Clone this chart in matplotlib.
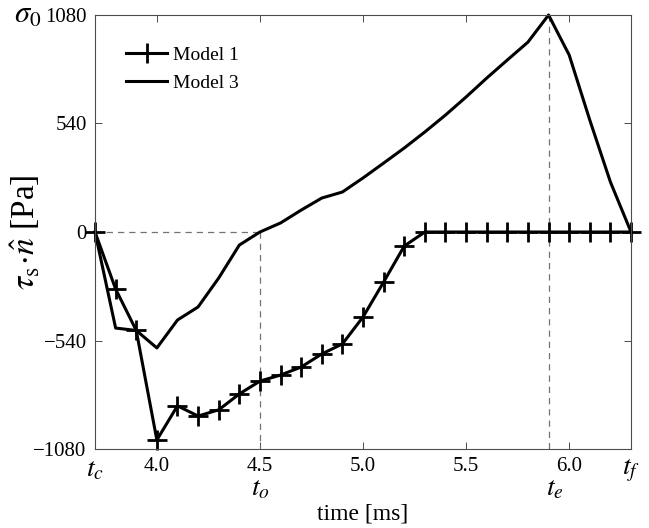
import matplotlib
matplotlib.use("Agg")
import matplotlib.pyplot as plt

plt.rcParams["font.family"] = ["Liberation Serif", "DejaVu Serif"]
plt.rcParams["mathtext.fontset"] = "stix"

# time [ms], sampled every 0.1 ms from t_c to t_f
t = [3.7, 3.8, 3.9, 4.0, 4.1, 4.2, 4.3, 4.4, 4.5, 4.6, 4.7, 4.8, 4.9, 5.0, 5.1, 5.2,
     5.3, 5.4, 5.5, 5.6, 5.7, 5.8, 5.9, 6.0, 6.1, 6.2, 6.3]
model1 = [0, -284, -490, -1035, -865, -916, -885, -806, -742, -712, -672, -607, -557,
          -423, -249, -70, 0, 0, 0, 0, 0, 0, 0, 0, 0, 0, 0]
model3 = [0, -478, -490, -577, -438, -373, -229, -65, 0, 45, 109, 169, 199, 269, 343,
          418, 498, 582, 672, 766, 856, 945, 1080, 881, 557, 249, 0]

t_c, t_o, t_e, t_f = 3.7, 4.5, 5.9, 6.3
sigma0 = 1080
yticks = [-1080, -540, 0, 540, 1080]
ytick_labels = ["\u22121080", "\u2212540", "0", "540", "1080"]
xticks = [3.7, 4.0, 4.5, 5.0, 5.5, 6.0, 6.3]
xtick_labels = ["$t_c$", "4.0", "4.5", "5.0", "5.5", "6.0", "$t_f$"]

fig = plt.figure(figsize=(6.49, 5.28), dpi=100)
ax = fig.add_axes([0.1464, 0.1496, 0.8259, 0.822])

# reference lines
ax.plot([t_c, t_o], [0, 0], ls=(0, (5, 4)), color="0.45", lw=0.9)
ax.plot([t_o, t_o], [0, -sigma0], ls=(0, (5, 4)), color="0.45", lw=0.9)
ax.plot([t_e, t_e], [sigma0, -sigma0], ls=(0, (5, 4)), color="0.45", lw=0.9)

ax.plot(t, model1, "k-", marker="+", ms=15, mew=2, lw=2.2, label="Model 1",
        clip_on=False)
ax.plot(t, model3, "k-", lw=2.2, label="Model 3", clip_on=False)

ax.set_xlim(t_c, t_f)
ax.set_ylim(-sigma0, sigma0)
ax.set_xticks(xticks)
ax.set_xticklabels(xtick_labels)
ax.set_yticks(yticks)
ax.set_yticklabels(ytick_labels)
ax.tick_params(direction="in", length=5, width=0.7, color="0.3", labelsize=15,
               top=True, right=True, pad=6)
for lbl in ax.get_xticklabels():
    if lbl.get_text().startswith("$"):
        lbl.set_fontsize(20)
for s in ax.spines.values():
    s.set_color("0.3")
    s.set_linewidth(0.8)

# extra time markers below the axis
ax.text(t_o, -0.092, "$t_o$", transform=ax.get_xaxis_transform(), ha="center",
        va="center", fontsize=20)
ax.text(t_e + 0.03, -0.092, "$t_e$", transform=ax.get_xaxis_transform(), ha="center",
        va="center", fontsize=20)
ax.text(-0.1, 1.0, r"$\sigma_0$", transform=ax.transAxes, ha="right", va="center",
        fontsize=22)

ax.set_xlabel("time [ms]", fontsize=17, labelpad=14)
ax.set_ylabel(r"$\tau_{\rm s}\!\cdot\!\hat{n}$ [Pa]", fontsize=24)
ax.yaxis.set_label_coords(-0.098, 0.5)

ax.legend(loc="upper left", frameon=False, fontsize=14, handlelength=2.1,
          borderaxespad=1.2, labelspacing=0.55, handletextpad=0.3)

fig.savefig("out.png", dpi=100)
